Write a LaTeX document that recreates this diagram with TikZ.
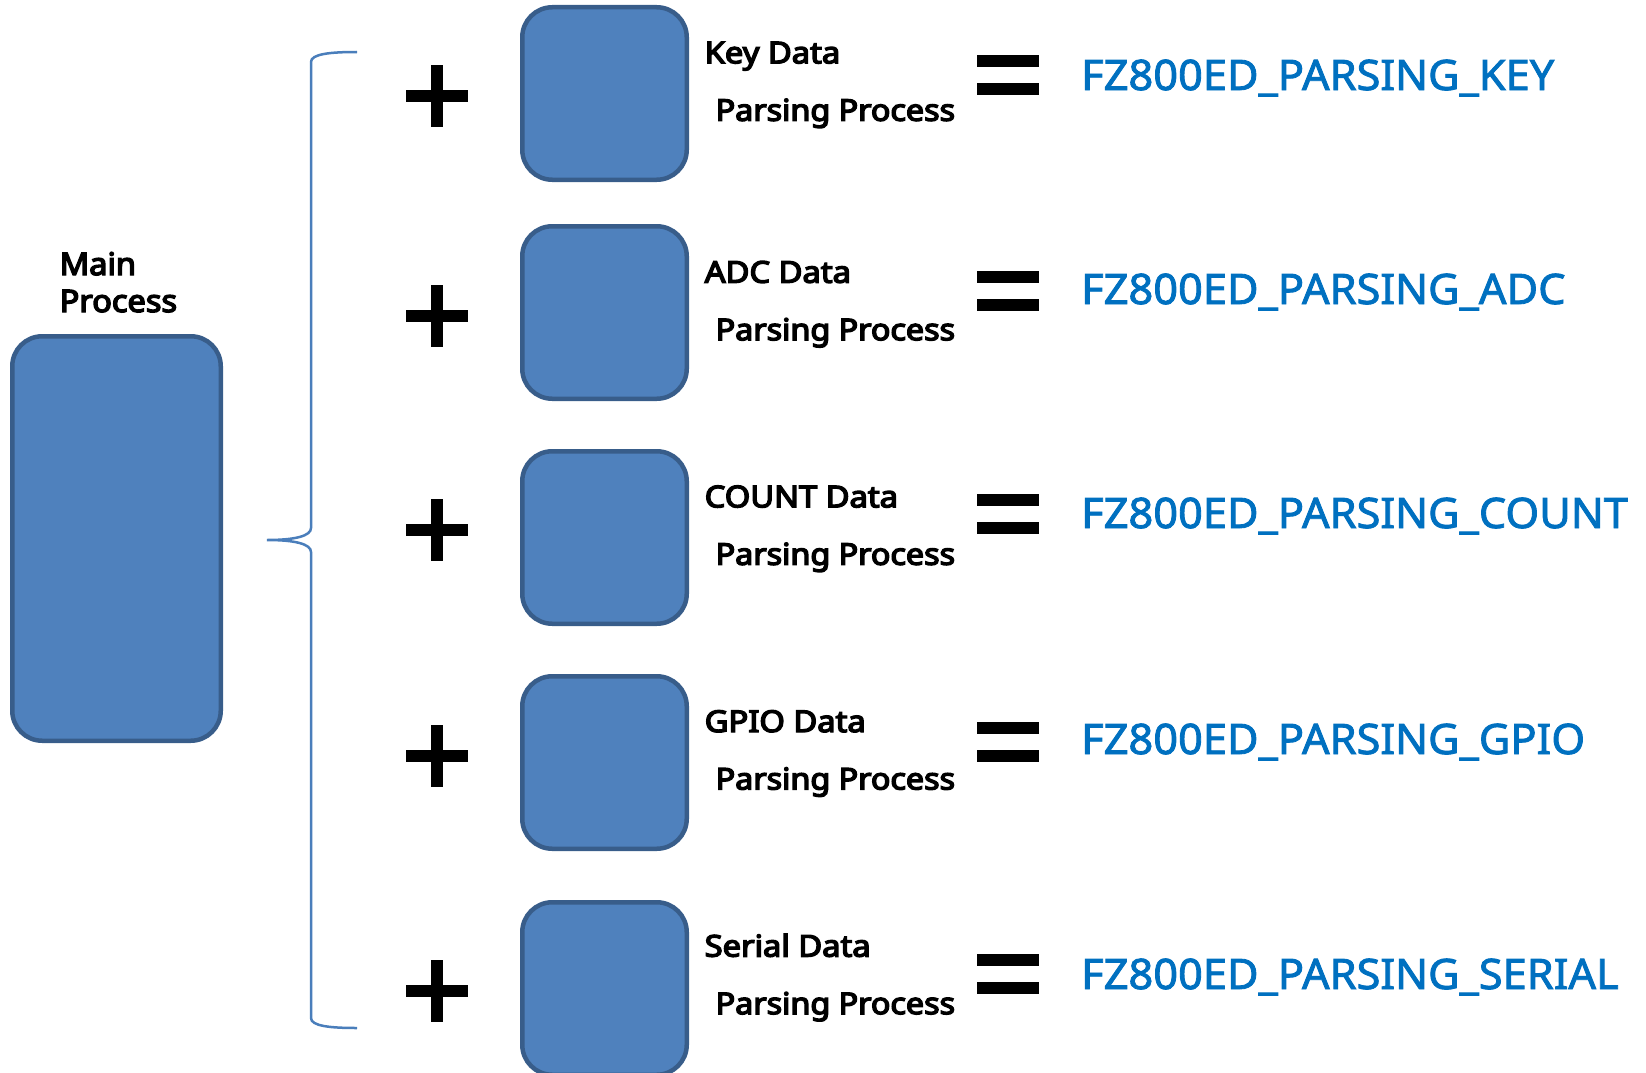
\documentclass[tikz,border=0pt]{standalone}
\usepackage{graphicx}
\usepackage{fontspec}
\setmainfont{Noto Sans}
\newfontfamily\labfont{Noto Sans}[FakeBold=4.5]
\newfontfamily\resfont{Noto Sans}[FakeBold=2]
\definecolor{boxfill}{HTML}{4F81BD}
\definecolor{boxline}{HTML}{385D8A}
\definecolor{bracecol}{HTML}{4A7EBB}
\definecolor{resblue}{HTML}{0070C0}
\newcommand{\wideA}[1]{\scalebox{1.09}[1]{#1}}
\newcommand{\wideB}[1]{\scalebox{1.076}[1]{#1}}
\newcommand{\wideM}[1]{\scalebox{1.05}[1]{#1}}
\newcommand{\wideR}[1]{\scalebox{1.032}[1]{#1}}
\tikzset{
  procbox/.style={draw=boxline, fill=boxfill, line width=4.5pt, rounded corners=30pt, inner sep=0pt},
  lab/.style={anchor=base west, inner sep=0pt, font=\fontsize{30}{36}\labfont},
  mainlab/.style={anchor=base west, inner sep=0pt, font=\fontsize{31}{37}\labfont},
  res/.style={anchor=base west, inner sep=0pt, text=resblue, font=\fontsize{42}{50}\resfont},
  brace/.style={draw=bracecol, line width=2.5pt},
  bar/.style={fill=black}
}
\begin{document}
\begin{tikzpicture}[x=1pt,y=-1pt]
\useasboundingbox (0,0) rectangle (1646,1073);
% main process
\node[procbox, minimum width=208.5pt, minimum height=404.5pt] (main) at (116.5,538.5) {};
\node[mainlab] (mainA) at (59.5,275) {\wideM{Main}};
\node[mainlab] (mainB) at (59.5,312) {\wideM{Process}};
% brace
\coordinate (btop) at (357,52);
\coordinate (btip) at (267,540);
\coordinate (bbot) at (357,1028);
\draw[brace] (btop) .. controls (330,52) and (311,54) .. (311,62) -- (311,528)
  .. controls (311,536) and (295,540) .. (btip)
  .. controls (295,540) and (311,544) .. (311,552) -- (311,1018)
  .. controls (311,1026) and (330,1028) .. (bbot);
% rows
\foreach \bt/\py/\la/\eq/\bl/\nm/\res [count=\i] in {
  5/96/63.3/75/90/Key/KEY,
  224/316/282.7/291/304/ADC/ADC,
  449/530/507.3/514/528/COUNT/COUNT,
  674/756/732/741.5/754/GPIO/GPIO,
  900/991/956.6/974/989/Serial/SERIAL}{
  \node[procbox, minimum width=164.5pt, minimum height=172.5pt] (box\i) at (604.5,{\bt+88.5}) {};
  \fill[bar] (406,{\py-6}) rectangle (468,{\py+6});
  \fill[bar] (431,{\py-31}) rectangle (443,{\py+31});
  \node[lab] (labA\i) at (704.5,\la) {\wideA{\nm\ Data}};
  \node[lab] (labB\i) at (715.5,{\la+57.5}) {\wideB{Parsing Process}};
  \fill[bar] (977,{\eq-20}) rectangle (1039,{\eq-8});
  \fill[bar] (977,{\eq+8}) rectangle (1039,{\eq+20});
  \node[res] (res\i) at (1081,\bl) {\wideR{FZ800ED\_PARSING\_\res}};
}
\end{tikzpicture}
\end{document}
